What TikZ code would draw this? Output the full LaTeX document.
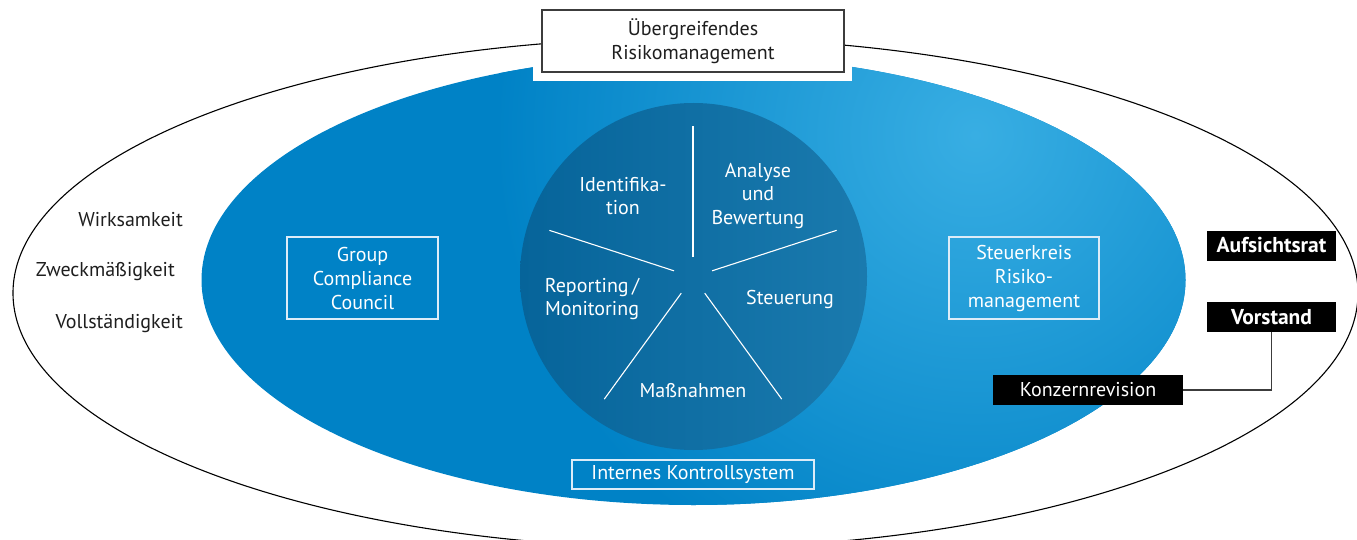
\documentclass[tikz,border=0pt]{standalone}
\usepackage{fontspec}
\setmainfont{PT Sans}
\usetikzlibrary{calc}
\definecolor{bbase}{RGB}{0,130,198}
\definecolor{blight}{RGB}{56,174,227}
\definecolor{cleft}{RGB}{6,100,154}
\definecolor{cright}{RGB}{26,122,174}
\definecolor{wline}{RGB}{220,236,248}
\definecolor{tdark}{RGB}{30,30,30}
\definecolor{gline}{RGB}{60,60,60}
\tikzset{
  wtext/.style={text=white, align=center, inner sep=0pt},
  wbox/.style={draw=wline, line width=1.2pt, text=white, align=center, inner sep=0pt,
               font=\fontsize{20}{24}\selectfont},
  blkbox/.style={fill=black, text=white, inner sep=0pt, minimum height=30pt},
  boldtext/.style={font=\fontsize{21.5}{24}\selectfont\bfseries},
  lefttext/.style={text=tdark, anchor=east, inner sep=0pt},
  spoke/.style={draw=white, line width=1.1pt},
  conn/.style={draw=gline, line width=1.3pt}
}
\begin{document}
\begin{tikzpicture}[x=1pt,y=-1pt,font=\fontsize{20}{23.5}\selectfont]
\useasboundingbox (0,0) rectangle (1357,540);
\begin{scope}
\clip (0,0) rectangle (1357,540);
% blue ellipse with highlight
\begin{scope}
\clip (693.5,280) ellipse [x radius=492pt, y radius=225pt];
\fill[bbase] (0,0) rectangle (1357,540);
\shade[inner color=blight, outer color=bbase] (975,135) circle (480pt);
\end{scope}
% white padding behind title box
\fill[white] (533,15) rectangle (852,81);
% outer ellipse
\draw[black, line width=1.1pt] (685.5,293) ellipse [x radius=672.5pt, y radius=255pt];
% inner circle
\shade[left color=cleft, right color=cright] (693.5,276.5) circle (173.5pt);
\coordinate (ctr) at (693,277);
\foreach \a in {90,18,162,234,306}
  \draw[spoke] ($(ctr)+(\a:20pt)$) -- ($(ctr)+(\a:151pt)$);
\end{scope}

% circle labels
\node[wtext] (ident) at (623,196) {Identifika-\\tion};
\node[wtext] (analyse) at (758,196) {Analyse\\und\\Bewertung};
\node[wtext] (steuer) at (790,299) {Steuerung};
\node[wtext] (mass) at (693,391) {Maßnahmen};
\node[wtext] (report) at (592,299) {Reporting\,/\\Monitoring};

% title box
\node[draw=gline, line width=1.5pt, fill=white, text=tdark, align=center, inner sep=0pt,
      minimum width=302pt, minimum height=62pt] (title) at (693,41) {Übergreifendes\\Risikomanagement};

% white outlined boxes
\node[wbox, minimum width=151pt, minimum height=82pt] (gcc) at (362.5,278) {Group\\Compliance\\Council};
\node[wbox, minimum width=150pt, minimum height=82pt] (skr) at (1024,278) {Steuerkreis\\Risiko-\\management};
\node[wbox, minimum width=242pt, minimum height=29pt] (iks) at (693,474.5) {Internes Kontrollsystem};

% left texts
\node[lefttext] (wirk) at (183,220) {Wirksamkeit};
\node[lefttext] (zweck) at (175,272) {Zweckmäßigkeit};
\node[lefttext] (voll) at (183,324) {Vollständigkeit};

% black boxes
\node[blkbox, minimum width=129pt, boldtext] (auf) at (1271.5,245.5) {Aufsichtsrat};
\node[blkbox, minimum width=129pt, boldtext] (vor) at (1271.5,317) {Vorstand};
\node[blkbox, minimum width=190pt] (konz) at (1088,390) {Konzernrevision};

\draw[conn] (vor.south) |- (konz.east);
\end{tikzpicture}
\end{document}
